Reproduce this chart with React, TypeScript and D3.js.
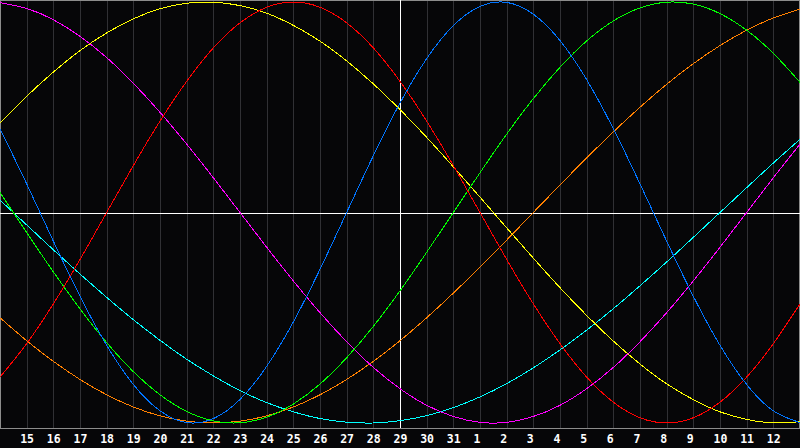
import React, { useRef, useEffect } from "react";
import * as d3 from "d3";

// day of month under each grid line (index 0 = left edge, 15 = today)
const days: number[] = [
  14, 15, 16, 17, 18, 19, 20, 21, 22, 23, 24, 25, 26, 27, 28, 29, 30, 31,
  1, 2, 3, 4, 5, 6, 7, 8, 9, 10, 11, 12, 13,
];

// cycle values in percent, one per day
const physical: number[] = [
  39.8, 13.6, -13.6, -39.8, -63.1, -81.7, -94.2, -99.8, -97.9, -88.8, -73.1,
  -52.0, -27.0, 0, 27.0, 52.0, 73.1, 88.8, 97.9, 99.8, 94.2, 81.7, 63.1, 39.8,
  13.6, -13.6, -39.8, -63.1, -81.7, -94.2, -99.8,
];
const emotional: number[] = [
  -78.2, -62.3, -43.4, -22.3, 0, 22.3, 43.4, 62.3, 78.2, 90.1, 97.5, 100,
  97.5, 90.1, 78.2, 62.3, 43.4, 22.3, 0, -22.3, -43.4, -62.3, -78.2, -90.1,
  -97.5, -100, -97.5, -90.1, -78.2, -62.3, -43.4,
];
const intellectual: number[] = [
  9.5, -9.5, -28.2, -45.8, -61.8, -75.6, -86.6, -94.5, -99.0, -99.9, -97.2,
  -91.0, -81.5, -69.0, -54.1, -37.2, -18.9, 0, 18.9, 37.2, 54.1, 69.0, 81.5,
  91.0, 97.2, 99.9, 99.0, 94.5, 86.6, 75.6, 61.8,
];
const intuitive: number[] = [
  99.7, 96.9, 91.6, 83.7, 73.6, 61.4, 47.6, 32.5, 16.5, 0, -16.5, -32.5,
  -47.6, -61.4, -73.6, -83.7, -91.6, -96.9, -99.7, -99.7, -96.9, -91.6,
  -83.7, -73.6, -61.4, -47.6, -32.5, -16.5, 0, 16.5, 32.5,
];
const aesthetic: number[] = [
  42.5, 55.2, 66.7, 76.9, 85.3, 92.0, 96.8, 99.4, 99.9, 98.3, 94.7, 88.9,
  81.4, 72.0, 61.1, 48.9, 35.7, 21.7, 7.3, -7.3, -21.7, -35.7, -48.9, -61.1,
  -72.0, -81.4, -88.9, -94.7, -98.3, -99.9, -99.4,
];
const awareness: number[] = [
  -50.0, -60.9, -70.7, -79.3, -86.6, -92.4, -96.6, -99.1, -100, -99.1, -96.6,
  -92.4, -86.6, -79.3, -70.7, -60.9, -50.0, -38.3, -25.9, -13.1, 0, 13.1,
  25.9, 38.3, 50.0, 60.9, 70.7, 79.3, 86.6, 92.4, 96.6,
];
const spiritual: number[] = [
  5.9, -5.9, -17.7, -29.2, -40.3, -50.9, -60.7, -69.7, -77.6, -84.6, -90.3,
  -94.7, -97.9, -99.6, -100, -98.9, -96.5, -92.7, -87.6, -81.3, -73.8, -65.3,
  -55.9, -45.7, -34.8, -23.5, -11.8, 0, 11.8, 23.5, 34.8,
];

const series = [
  { values: spiritual, color: "#00ffff" },
  { values: awareness, color: "#ff8000" },
  { values: aesthetic, color: "#ffff00" },
  { values: intuitive, color: "#ff00ff" },
  { values: intellectual, color: "#00ff00" },
  { values: emotional, color: "#ff0000" },
  { values: physical, color: "#0074ff" },
];

const App: React.FC = () => {
  const svgRef = useRef<SVGSVGElement>(null);

  useEffect(() => {
    if (!svgRef.current) return;

    const width = 800;
    const height = 448;
    const plotBottom = 428;
    const today = 15;

    const svg = d3
      .select(svgRef.current)
      .attr("width", width)
      .attr("height", height);

    svg.selectAll("*").remove();

    svg
      .append("rect")
      .attr("width", width)
      .attr("height", height)
      .attr("fill", "#060608");

    const xScale = d3
      .scaleLinear()
      .domain([0, days.length - 1])
      .range([0, width]);

    const yScale = d3.scaleLinear().domain([-100, 100]).range([423, 2]);

    // vertical day grid
    svg
      .append("g")
      .selectAll("line")
      .data(d3.range(1, days.length - 1))
      .enter()
      .append("line")
      .attr("x1", (d) => Math.round(xScale(d)) + 0.5)
      .attr("x2", (d) => Math.round(xScale(d)) + 0.5)
      .attr("y1", 0)
      .attr("y2", plotBottom)
      .attr("stroke", "#303034")
      .attr("shape-rendering", "crispEdges");

    // frame
    svg
      .append("rect")
      .attr("x", 0.5)
      .attr("y", 0.5)
      .attr("width", width - 1)
      .attr("height", plotBottom)
      .attr("fill", "none")
      .attr("stroke", "#8c8c8c")
      .attr("shape-rendering", "crispEdges");

    // zero line and today marker
    svg
      .append("line")
      .attr("x1", 0)
      .attr("x2", width)
      .attr("y1", Math.round(yScale(0)) + 0.5)
      .attr("y2", Math.round(yScale(0)) + 0.5)
      .attr("stroke", "#ffffff")
      .attr("shape-rendering", "crispEdges");

    svg
      .append("line")
      .attr("x1", Math.round(xScale(today)) + 0.5)
      .attr("x2", Math.round(xScale(today)) + 0.5)
      .attr("y1", 0)
      .attr("y2", plotBottom)
      .attr("stroke", "#ffffff")
      .attr("shape-rendering", "crispEdges");

    // cycles
    const line = d3
      .line<number>()
      .x((_, i) => xScale(i))
      .y((d) => yScale(d))
      .curve(d3.curveNatural);

    svg
      .append("g")
      .selectAll("path")
      .data(series)
      .enter()
      .append("path")
      .attr("d", (d) => line(d.values))
      .attr("fill", "none")
      .attr("stroke", (d) => d.color)
      .attr("stroke-width", 1)
      .attr("shape-rendering", "crispEdges");

    // day labels
    svg
      .append("g")
      .selectAll("text")
      .data(days.slice(1, days.length - 1))
      .enter()
      .append("text")
      .attr("x", (_, i) => xScale(i + 1) - 6.5)
      .attr("y", 443)
      .attr("fill", "#ffffff")
      .attr("font-family", "'DejaVu Sans Mono', monospace")
      .attr("font-weight", "bold")
      .attr("font-size", 11.5)
      .text((d) => String(d));
  }, []);

  return (
    <svg
      ref={svgRef}
      style={{ position: "absolute", left: 0, top: 0, display: "block" }}
    ></svg>
  );
};

export default App;
